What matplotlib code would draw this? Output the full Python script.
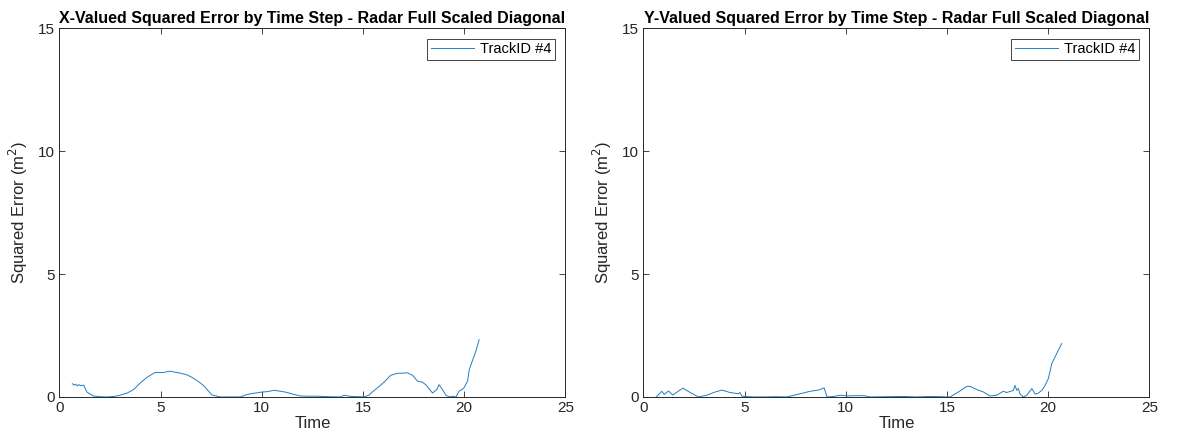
import numpy as np
import matplotlib.pyplot as plt

plt.rcParams['font.family'] = ['Liberation Sans', 'DejaVu Sans']

# x-error track, squared error per time step
t_x = [0.64, 0.72, 0.80, 0.88, 0.96, 1.05, 1.20, 1.36, 1.68, 2.00, 2.35, 2.70,
       3.00, 3.35, 3.67, 4.00, 4.33, 4.74, 5.10, 5.48, 5.70, 5.97, 6.30, 6.55,
       6.85, 7.13, 7.54, 7.95, 8.40, 8.94, 9.28, 9.60, 9.94, 10.30, 10.60, 10.95,
       11.26, 11.60, 11.90, 12.30, 12.74, 13.30, 13.90, 14.06, 14.40, 14.80, 15.05,
       15.30, 15.46, 15.80, 16.04, 16.37, 16.70, 17.00, 17.20, 17.45, 17.70, 17.94,
       18.10, 18.30, 18.44, 18.65, 18.76, 18.93, 19.10, 19.26, 19.42, 19.60, 19.75,
       19.90, 20.00, 20.17, 20.25, 20.42, 20.58, 20.74]
err_x = [0.54, 0.48, 0.52, 0.45, 0.50, 0.46, 0.48, 0.20, 0.04, 0.01, 0.00, 0.02,
         0.07, 0.16, 0.30, 0.57, 0.80, 1.00, 0.99, 1.05, 1.01, 0.97, 0.90, 0.80,
         0.64, 0.46, 0.08, 0.00, 0.00, 0.00, 0.10, 0.15, 0.19, 0.22, 0.27, 0.23,
         0.18, 0.10, 0.04, 0.03, 0.03, 0.01, 0.00, 0.07, 0.02, 0.01, 0.00,
         0.07, 0.20, 0.43, 0.60, 0.88, 0.96, 0.97, 0.98, 0.88, 0.64, 0.60,
         0.50, 0.30, 0.16, 0.30, 0.50, 0.30, 0.07, 0.00, 0.03, 0.00, 0.24,
         0.30, 0.38, 0.65, 1.10, 1.50, 1.86, 2.33]

# y-error track
t_y = [0.63, 0.91, 1.03, 1.24, 1.45, 1.95, 2.31, 2.72, 3.13, 3.54, 3.87, 4.28,
       4.69, 4.77, 4.86, 5.43, 6.00, 6.50, 7.08, 7.40, 7.74, 8.24, 8.65, 8.93,
       9.07, 9.40, 9.72, 10.10, 10.40, 10.90, 11.20, 12.00, 12.80, 13.50, 14.20,
       15.15, 15.56, 15.98, 16.15, 16.47, 16.80, 17.13, 17.46, 17.78, 17.95, 18.15,
       18.28, 18.36, 18.45, 18.53, 18.60, 18.77, 18.94, 19.19, 19.36, 19.52, 19.69,
       19.85, 20.01, 20.18, 20.34, 20.50, 20.67]
err_y = [0.00, 0.23, 0.10, 0.24, 0.08, 0.36, 0.18, 0.00, 0.07, 0.20, 0.28, 0.18,
         0.13, 0.18, 0.03, 0.00, 0.00, 0.01, 0.00, 0.06, 0.13, 0.23, 0.28, 0.37,
         0.00, 0.02, 0.07, 0.04, 0.05, 0.05, 0.00, 0.01, 0.02, 0.00, 0.02,
         0.00, 0.20, 0.43, 0.43, 0.30, 0.20, 0.04, 0.07, 0.23, 0.18, 0.23,
         0.27, 0.47, 0.27, 0.34, 0.13, 0.00, 0.07, 0.34, 0.11, 0.16, 0.27,
         0.47, 0.75, 1.36, 1.63, 1.90, 2.17]

titles = ['X-Valued Squared Error by Time Step - Radar Full Scaled Diagonal',
          'Y-Valued Squared Error by Time Step - Radar Full Scaled Diagonal']
series = [(t_x, err_x), (t_y, err_y)]

axis_gray = '#262626'
fig = plt.figure(figsize=(11.78, 4.44), dpi=100)
lefts = [0.0504, 0.5462]

for left, title, (t, err) in zip(lefts, titles, series):
    ax = fig.add_axes([left, 0.106, 0.4295, 0.830])
    ax.plot(t, err, color='#1f7fc4', linewidth=0.7, label='TrackID #4')
    ax.set_xlim(0, 25)
    ax.set_ylim(0, 15)
    ax.set_xticks([0, 5, 10, 15, 20, 25])
    ax.set_yticks([0, 5, 10, 15])
    ax.tick_params(direction='in', top=True, right=True, length=4, width=0.6,
                   colors=axis_gray, labelsize=11, pad=3)
    for sp in ax.spines.values():
        sp.set_color(axis_gray)
        sp.set_linewidth(0.7)
    ax.set_xlabel('Time', fontsize=12, color=axis_gray, labelpad=1)
    ax.set_ylabel('Squared Error (m$^2$)', fontsize=12, color=axis_gray, labelpad=6)
    ax.set_title(title, fontsize=11.5, fontweight='bold', pad=4)
    leg = ax.legend(loc='upper right', fontsize=10.5, fancybox=False,
                    handlelength=3.0, handletextpad=0.4, borderpad=0.25,
                    framealpha=1, borderaxespad=0.7)
    leg.get_frame().set_edgecolor(axis_gray)
    leg.get_frame().set_linewidth(0.6)

fig.savefig('out.png', dpi=100)
